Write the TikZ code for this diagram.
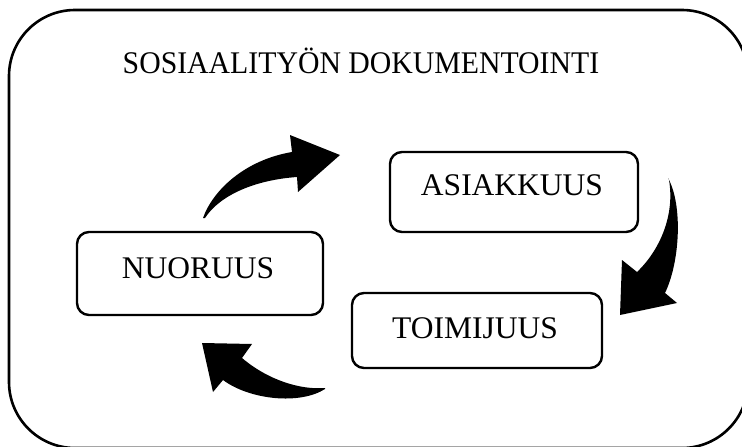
\documentclass[tikz,border=0pt]{standalone}
\usepackage{fontspec}
\setmainfont{Liberation Serif}
\begin{document}
\begin{tikzpicture}[x=1pt,y=-1pt,
  box/.style={draw,line width=2.4pt,rounded corners=12pt,inner sep=0pt},
  lbl/.style={anchor=base,inner sep=0pt,font=\fontsize{31.5}{36}\selectfont},
  blockarrow/.style={fill=black,draw=none}]
\useasboundingbox (0,0) rectangle (742,447);
\clip (0,0) rectangle (742,447);
\fill[white] (0,0) rectangle (742,447);
% outer frame
\node[draw,line width=2.6pt,rounded corners=66pt,minimum width=739pt,minimum height=438pt,inner sep=0pt] (frame) at (378.5,229) {};
\node[lbl] (title) at (361,73) {\scalebox{0.945}[1]{SOSIAALITYÖN DOKUMENTOINTI}};
% boxes
\node[box,minimum width=246pt,minimum height=83pt] (nuoruus) at (200,273.5) {};
\node[box,minimum width=248pt,minimum height=80pt] (asiakkuus) at (514,192) {};
\node[box,minimum width=250pt,minimum height=75pt] (toimijuus) at (477,330.5) {};
\node[lbl] (tnuoruus) at (198,278) {NUORUUS};
\node[lbl] (tasiakkuus) at (512,195) {ASIAKKUUS};
\node[lbl] (ttoimijuus) at (475,338) {TOIMIJUUS};
% block arrows
\fill[blockarrow] (203,218) .. controls (213,190) and (245,160) .. (292,152)
  -- (290,135) -- (340,155) -- (298,192) -- (297,177)
  .. controls (255,180) and (220,195) .. (205,218) -- cycle;
\fill[blockarrow] (668,178) .. controls (683,205) and (680,262) .. (665,293)
  -- (677,303) -- (620,315) -- (622,260) -- (637,272)
  .. controls (660,250) and (675,215) .. (669,180) -- cycle;
\fill[blockarrow] (325,388) .. controls (300,390) and (268,380) .. (242,358)
  -- (252,344) -- (202,343) -- (213,392) -- (223,380)
  .. controls (250,400) and (300,405) .. (325,389) -- cycle;
\end{tikzpicture}
\end{document}
